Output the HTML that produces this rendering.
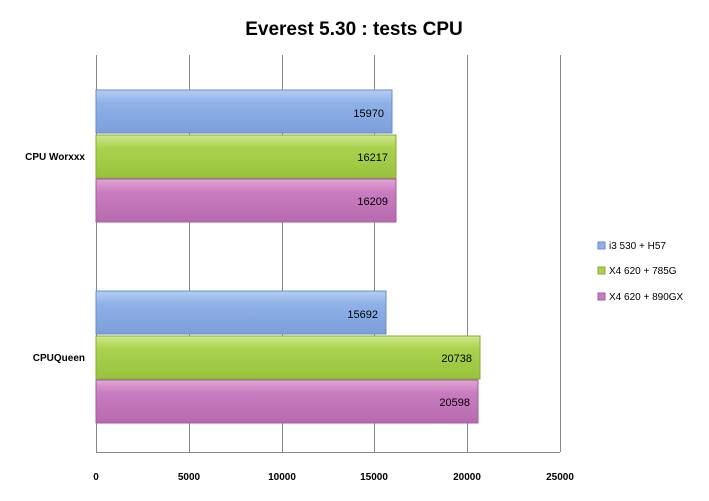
<!DOCTYPE html><html><head><style>body{margin:0;background:#fff}svg{display:block;font-family:"Liberation Sans",sans-serif}</style></head><body>
<svg width="709" height="501" viewBox="0 0 709 501">
<defs>
<linearGradient id="b" x1="0" y1="0" x2="0" y2="1"><stop offset="0" stop-color="#b5cdf2"/><stop offset="0.3" stop-color="#8fb1e8"/><stop offset="1" stop-color="#7c9fdb"/></linearGradient>
<linearGradient id="g" x1="0" y1="0" x2="0" y2="1"><stop offset="0" stop-color="#cfe78e"/><stop offset="0.3" stop-color="#aad24f"/><stop offset="1" stop-color="#98c23c"/></linearGradient>
<linearGradient id="p" x1="0" y1="0" x2="0" y2="1"><stop offset="0" stop-color="#e0a6d6"/><stop offset="0.3" stop-color="#c97cbf"/><stop offset="1" stop-color="#b86aae"/></linearGradient>
</defs>
<text x="354" y="35" text-anchor="middle" font-size="19" font-weight="bold">Everest 5.30 : tests CPU</text>
<g stroke="#888" stroke-width="1">
<line x1="96.5" y1="55" x2="96.5" y2="452"/>
<line x1="189.5" y1="55" x2="189.5" y2="452"/><line x1="282.5" y1="55" x2="282.5" y2="452"/>
<line x1="374.5" y1="55" x2="374.5" y2="452"/><line x1="467.5" y1="55" x2="467.5" y2="452"/>
<line x1="560.5" y1="55" x2="560.5" y2="452"/>
<line x1="96" y1="452.5" x2="560" y2="452.5"/>
</g>
<g stroke-width="1">
<rect x="96" y="90" width="296" height="43" fill="url(#b)" stroke="#6a8cc8"/>
<rect x="96" y="135" width="300" height="43" fill="url(#g)" stroke="#86ad30"/>
<rect x="96" y="179" width="300" height="43" fill="url(#p)" stroke="#a65c9c"/>
<rect x="96" y="291" width="290" height="43" fill="url(#b)" stroke="#6a8cc8"/>
<rect x="96" y="336" width="384" height="43" fill="url(#g)" stroke="#86ad30"/>
<rect x="96" y="380" width="382" height="43" fill="url(#p)" stroke="#a65c9c"/>
</g>
<g font-size="11" text-anchor="end">
<text x="384" y="117">15970</text><text x="388" y="161">16217</text><text x="388" y="205">16209</text>
<text x="378" y="318">15692</text><text x="472" y="362">20738</text><text x="470" y="406">20598</text>
</g>
<g font-size="10" font-weight="bold" text-anchor="end">
<text x="85" y="160">CPU Worxxx</text><text x="85" y="361">CPUQueen</text>
</g>
<g font-size="10" font-weight="bold" text-anchor="middle">
<text x="96" y="480">0</text><text x="189" y="480">5000</text><text x="282" y="480">10000</text>
<text x="374" y="480">15000</text><text x="467" y="480">20000</text><text x="560" y="480">25000</text>
</g>
<rect x="598" y="242" width="7" height="7" fill="#8fb1e8" stroke="#6a8cc8"/>
<rect x="598" y="267" width="7" height="7" fill="#aad24f" stroke="#86ad30"/>
<rect x="598" y="293" width="7" height="7" fill="#c97cbf" stroke="#a65c9c"/>
<g font-size="10"><text x="609" y="249">i3 530 + H57</text><text x="609" y="274">X4 620 + 785G</text><text x="609" y="300">X4 620 + 890GX</text></g>
</svg></body></html>
